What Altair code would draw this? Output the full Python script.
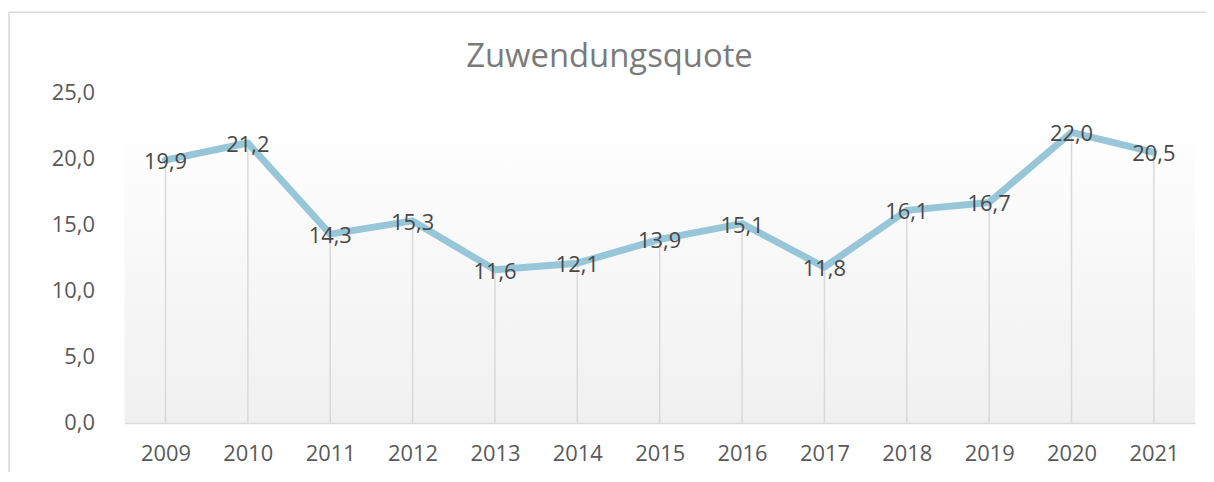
import altair as alt
import pandas as pd

years = ["2009", "2010", "2011", "2012", "2013", "2014", "2015", "2016", "2017", "2018", "2019", "2020", "2021"]
values = [19.9, 21.2, 14.3, 15.3, 11.6, 12.1, 13.9, 15.1, 11.8, 16.1, 16.7, 22.0, 20.5]
y_ticks = [0, 5, 10, 15, 20, 25]
title_text = "Zuwendungsquote"

W, H = 1077, 332
FONT = "Open Sans"

df = pd.DataFrame({"year": years, "value": values})

x_enc = alt.X("year:O", scale=alt.Scale(type="point", padding=0.5),
              axis=alt.Axis(title=None, labelAngle=0, domainColor="#D9D9D9", domainWidth=1.5,
                            ticks=False, grid=False, labelPadding=21, labelFont=FONT,
                            labelFontSize=22, labelColor="#595959", zindex=1))
y_scale = alt.Scale(domain=[0, 25], nice=False)
y_enc = alt.Y("value:Q", scale=y_scale,
              axis=alt.Axis(title=None, values=y_ticks, domain=False, ticks=False, grid=False,
                            labelPadding=30, labelFont=FONT, labelFontSize=22, labelColor="#595959",
                            labelExpr="replace(format(datum.value, '.1f'), '.', ',')"))

one = alt.Data(values=[{}])

background = alt.Chart(one).mark_rect(
    fill=alt.Gradient(gradient="linear", x1=0, y1=0, x2=0, y2=1,
                      stops=[alt.GradientStop(color="#FEFEFE", offset=0),
                             alt.GradientStop(color="#F0F0F0", offset=1)])
).encode(x=alt.value(0), x2=alt.value(W), y=alt.value(45), y2=alt.value(H))

border = alt.Chart(one).mark_rect(fill=None, stroke="#D9D9D9", strokeWidth=1.5).encode(
    x=alt.value(-116), x2=alt.value(W + 300), y=alt.value(-81), y2=alt.value(H + 300))

base = alt.Chart(df)

drops = base.mark_rule(color="#D9D9D9", strokeWidth=1.5).encode(
    x=x_enc, y=y_enc, y2=alt.datum(0))

line = base.mark_line(color="#98C6D9", strokeWidth=7, strokeJoin="round", strokeCap="round").encode(
    x=x_enc, y=y_enc)

labels = base.transform_calculate(
    label="replace(format(datum.value, '.1f'), '.', ',')"
).mark_text(font=FONT, fontSize=22, color="#484848", align="center", baseline="middle", dy=2).encode(
    x=x_enc, y=y_enc, text="label:N")

title = alt.Chart(one).mark_text(font=FONT, fontSize=33, color="#7A7A7A", align="center",
                                 baseline="alphabetic").encode(
    x=alt.value(488), y=alt.value(-26), text=alt.value(title_text))

chart = alt.layer(background, border, drops, line, labels, title).properties(
    width=W, height=H,
    autosize=alt.AutoSizeParams(type="none"),
    padding={"left": 117, "top": 84, "right": 11, "bottom": 48},
).configure_view(stroke=None)

chart.save("out.html", embed_options={"renderer": "svg", "actions": False})
